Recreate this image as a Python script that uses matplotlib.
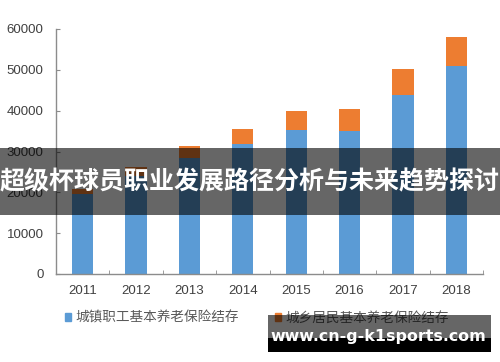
import matplotlib
matplotlib.use("Agg")
import matplotlib.pyplot as plt
import matplotlib.patches as mpatches
import numpy as np

plt.rcParams["font.family"] = ["Liberation Sans", "Noto Sans CJK SC", "DejaVu Sans"]

# data
years = ["2011", "2012", "2013", "2014", "2015", "2016", "2017", "2018"]
urban_workers = [19500, 24000, 28300, 31800, 35350, 35000, 43900, 51000]
urban_rural = [1230, 2300, 3000, 3750, 4600, 5400, 6350, 7150]
series_names = ["城镇职工基本养老保险结存", "城乡居民基本养老保险结存"]
yticks = [0, 10000, 20000, 30000, 40000, 50000, 60000]

title = "超级杯球员职业发展路径分析与未来趋势探讨"
watermark = "www.cn-g-k1sports.com"

blue = "#5B9BD5"
orange = "#ED7D31"
W, H = 500, 362

fig = plt.figure(figsize=(5, 3.62), dpi=100)
ax = fig.add_axes([56 / W, 1 - 274 / H, (483 - 56) / W, (274 - 29) / H])

x = np.arange(len(years))
ax.bar(x, urban_workers, width=0.4, color=blue, label=series_names[0])
ax.bar(x, urban_rural, width=0.4, bottom=urban_workers, color=orange,
       label=series_names[1])

ax.set_xlim(-0.5, len(years) - 0.5)
ax.set_ylim(0, 60000)
ax.set_yticks(yticks)
ax.set_xticks(x)
ax.set_xticklabels(years)
ax.set_xticks(np.arange(-0.5, len(years)), minor=True)

for s in ["top", "right"]:
    ax.spines[s].set_visible(False)
for s in ["left", "bottom"]:
    ax.spines[s].set_color("#8c8c8c")
    ax.spines[s].set_linewidth(1.0)

ax.tick_params(axis="y", direction="in", length=3, color="#8c8c8c",
               labelsize=9.5, labelcolor="#404040", pad=9)
ax.tick_params(axis="x", which="major", length=0, labelsize=9.5,
               labelcolor="#404040", pad=8)
ax.tick_params(axis="x", which="minor", direction="in", length=3,
               color="#8c8c8c")

# legend
leg = fig.legend(handles=[mpatches.Patch(color=blue), mpatches.Patch(color=orange)],
                 labels=series_names, loc="center left",
                 bbox_to_anchor=(58 / W, 1 - 318 / H), ncol=2, frameon=False,
                 handlelength=0.45, handleheight=0.45, handletextpad=0.35,
                 columnspacing=2.6, borderpad=0,
                 prop={"family": "Noto Sans CJK SC", "size": 9.8})
for t in leg.get_texts():
    t.set_color("#595959")

# dark band with title
band = mpatches.Rectangle((0, 1 - 215 / H), 1, 67 / H, transform=fig.transFigure,
                          facecolor="black", alpha=0.6, edgecolor="none", zorder=10)
fig.patches.append(band)
fig.text(0.5, 1 - 182 / H, title, ha="center", va="center", color="white",
         fontsize=18, fontweight="bold", family=["Noto Sans CJK SC"], zorder=11)

# watermark box
wm1 = mpatches.Rectangle((268 / W, 1 - 338 / H), (491 - 268) / W, 23 / H,
                         transform=fig.transFigure, facecolor="black", alpha=0.6,
                         edgecolor="none", zorder=10)
wm2 = mpatches.Rectangle((268 / W, 1 - 352 / H), (491 - 268) / W, 14 / H,
                         transform=fig.transFigure, facecolor="black",
                         edgecolor="none", zorder=10)
fig.patches.extend([wm1, wm2])
fig.text(378.5 / W, 1 - 341.5 / H, watermark, ha="center", va="baseline",
         color="white", fontsize=11.4, fontweight="bold", family=["DejaVu Sans"],
         zorder=11)

fig.savefig("out.png", dpi=100)
